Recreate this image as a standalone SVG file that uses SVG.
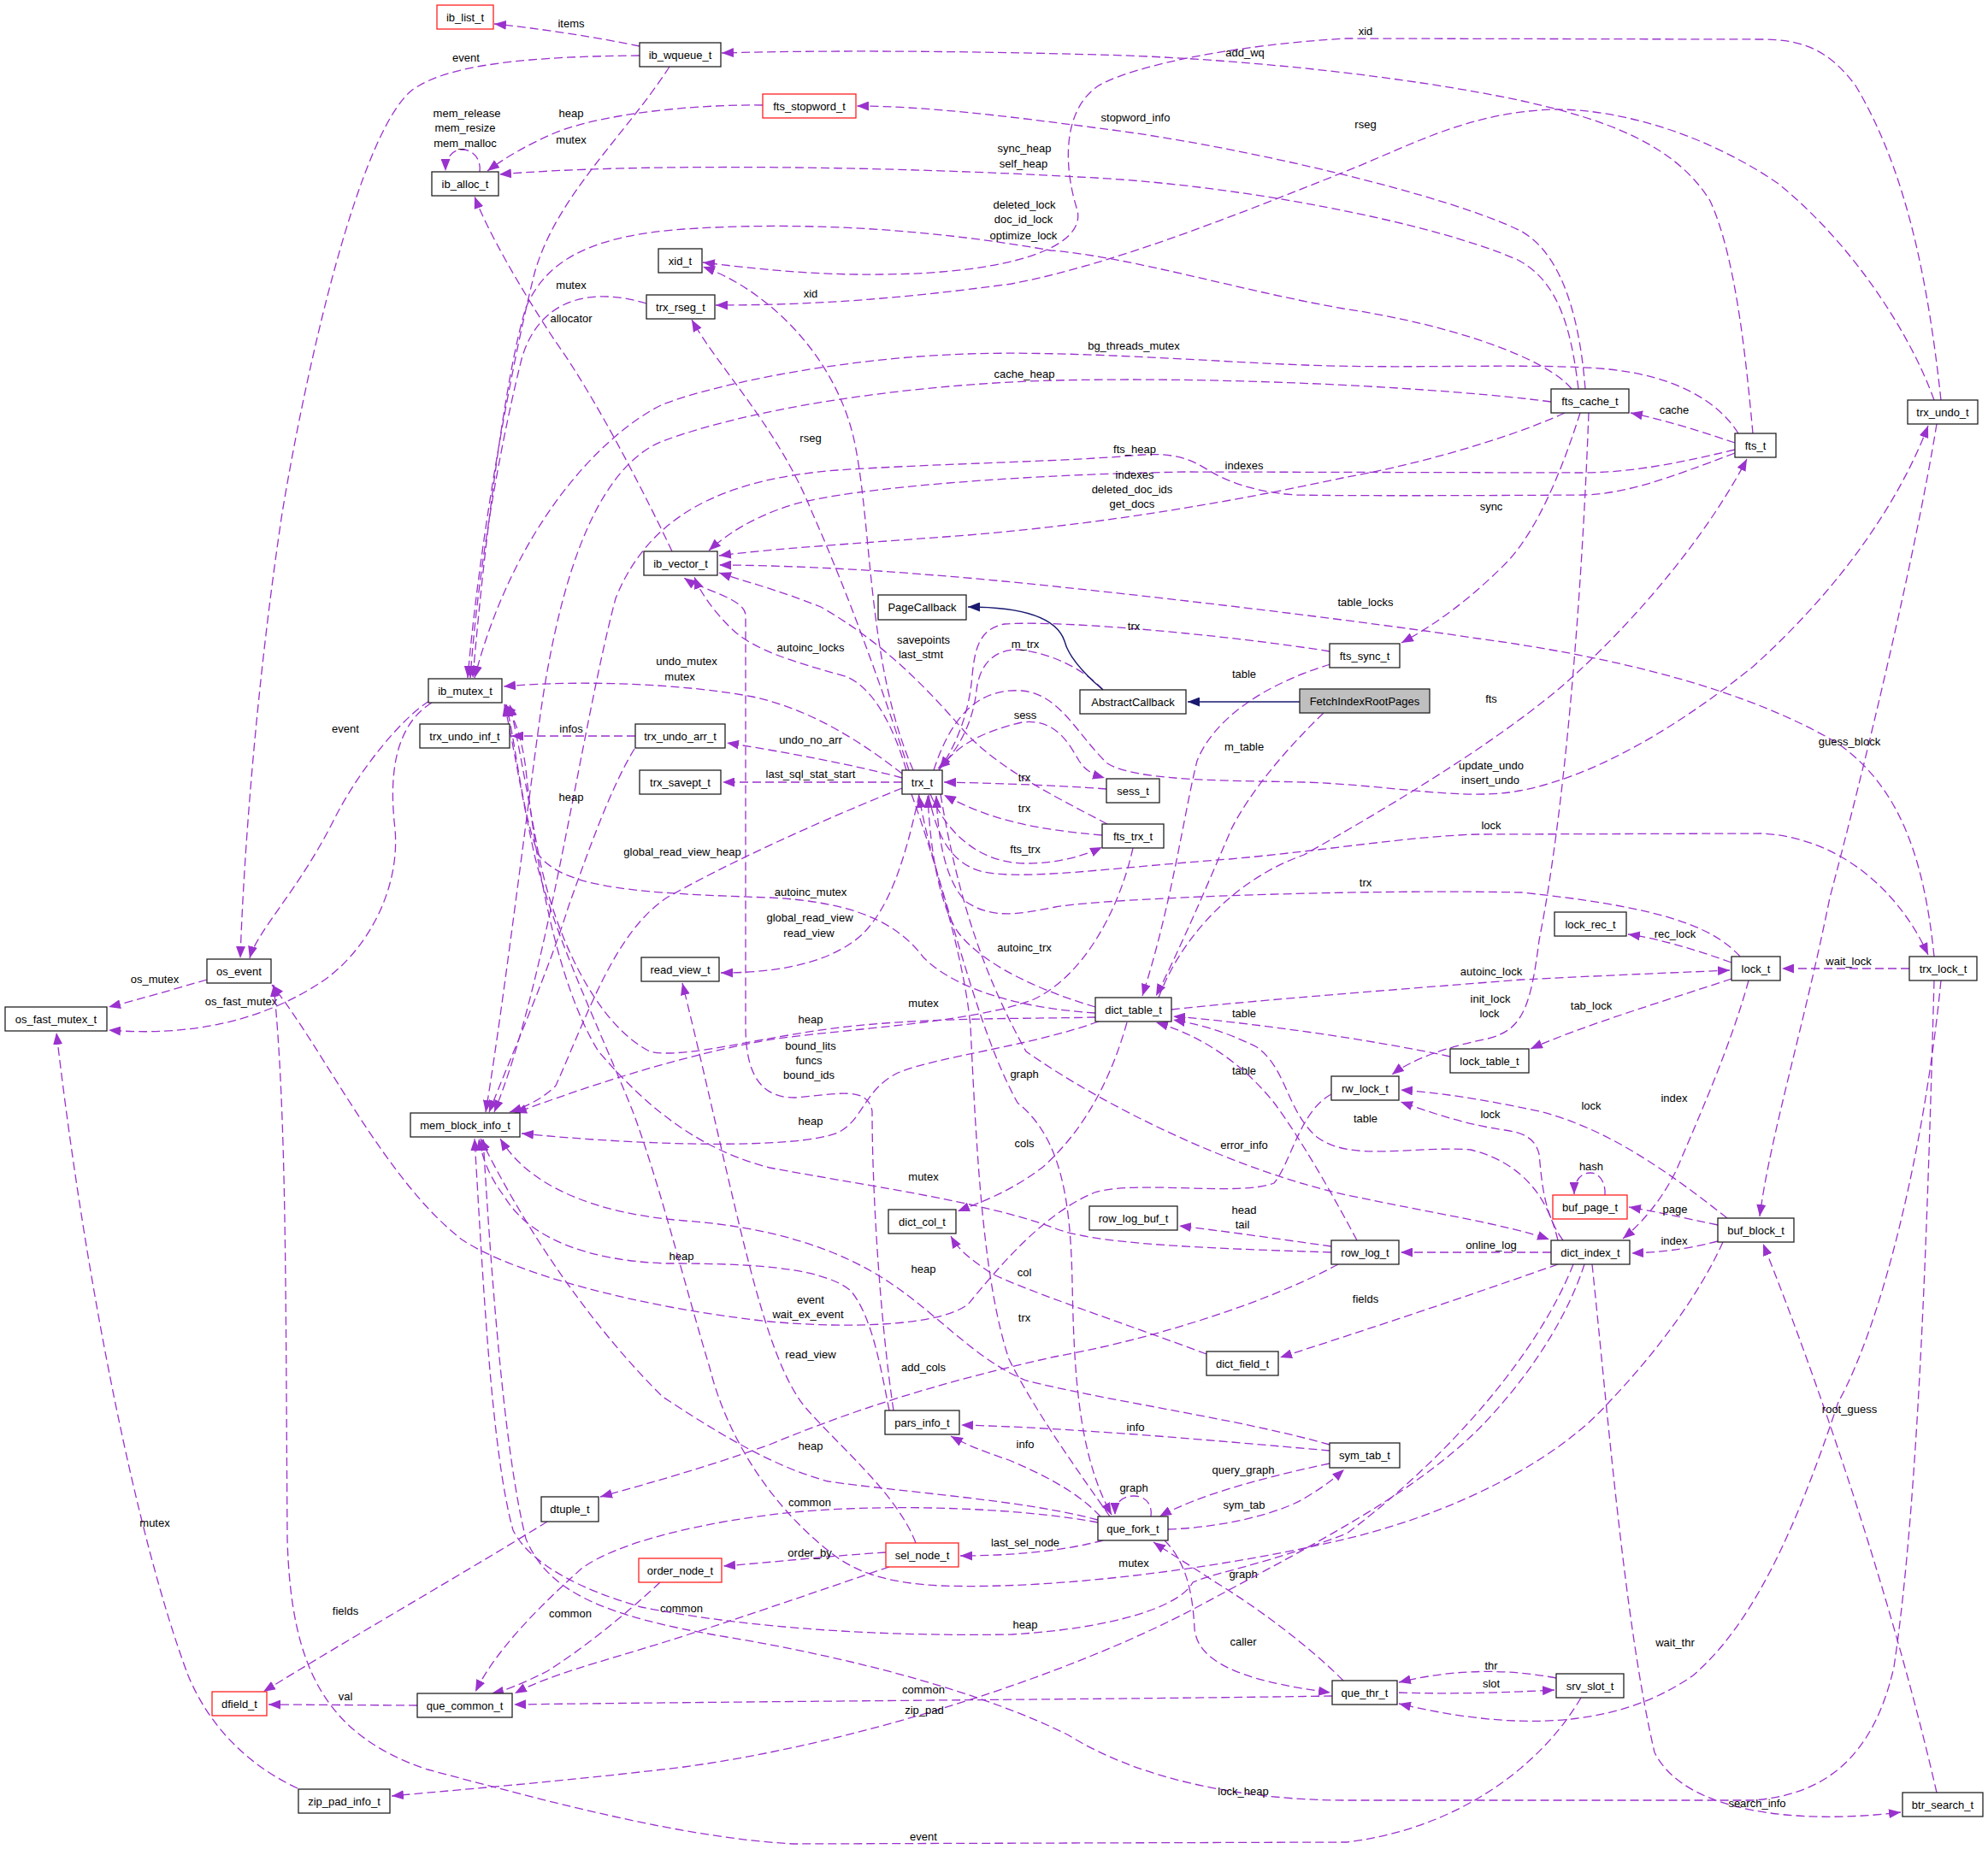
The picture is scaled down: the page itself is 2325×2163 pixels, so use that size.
<svg xmlns="http://www.w3.org/2000/svg" width="2325" height="2163" viewBox="0 0 2325 2163">
<style>
.n rect{fill:#fff;stroke:#222;stroke-width:1.3}
.n.r rect{stroke:#ff2020}
.n.g rect{fill:#bfbfbf}
text{font-family:"Liberation Sans",Arial,Helvetica,sans-serif;font-size:13px;fill:#000;text-anchor:middle}
.e path{fill:none;stroke:#9a32cd;stroke-width:1.3;stroke-dasharray:10,5;marker-end:url(#a)}
.i path{fill:none;stroke:#191970;stroke-width:1.4;marker-end:url(#b)}
</style>
<defs>
<marker id="a" markerUnits="userSpaceOnUse" markerWidth="15" markerHeight="11" refX="14" refY="5.5" orient="auto"><path d="M0,0 L14,5.5 L0,11 z" fill="#9a32cd"/></marker>
<marker id="b" markerUnits="userSpaceOnUse" markerWidth="15" markerHeight="11" refX="14" refY="5.5" orient="auto"><path d="M0,0 L14,5.5 L0,11 z" fill="#191970"/></marker>
</defs>
<rect width="2325" height="2163" fill="#fff"/>
<g id="edges">
<g id="e1" class="e"><path d="M748,54 C700,44 630,33 578,28"/><text x="668" y="31.5">items</text></g>
<g id="e2" class="e"><path d="M748,65 C620,66 520,75 480,107 C420,160 360,420 330,600 C300,800 285,1000 281,1121"/><text x="545" y="71.5">event</text></g>
<g id="e3" class="e"><path d="M783,78 C730,160 650,230 625,320 C595,440 560,640 547,793"/><text x="668" y="167.5">mutex</text></g>
<g id="e4" class="e"><path d="M561,201 C563,186 553,175 541,175 C529,175 521,184 521,200"/><text x="546" y="136.5">mem_release</text><text x="544" y="153.5">mem_resize</text><text x="544" y="171.5">mem_malloc</text></g>
<g id="e5" class="e"><path d="M892,123 C800,122 700,135 650,155 C615,170 590,185 570,200"/><text x="668" y="136.5">heap</text></g>
<g id="e6" class="e"><path d="M2050,507 C2042,420 2030,300 2000,235 C1960,170 1880,140 1780,118 C1650,90 1450,68 1285,64 C1100,59 950,59 844,62"/><text x="1456" y="65.5">add_wq</text></g>
<g id="e7" class="e"><path d="M1854,455 C1848,380 1830,300 1780,271 C1700,230 1450,170 1285,150 C1180,136 1080,124 1002,124"/><text x="1328" y="141.5">stopword_info</text></g>
<g id="e8" class="e"><path d="M1846,455 C1838,390 1825,330 1775,304 C1680,262 1450,215 1260,207 C1050,195 750,190 584,204"/><text x="1198" y="177.5">sync_heap</text><text x="1197" y="195.5">self_heap</text></g>
<g id="e9" class="e"><path d="M1838,455 C1810,420 1700,380 1571,361 C1450,340 1320,300 1229,293 C1100,270 950,258 800,268 C700,275 640,300 615,360 C590,440 565,650 553,793"/><text x="1198" y="243.5">deleted_lock</text><text x="1197" y="260.5">doc_id_lock</text><text x="1197" y="279.5">optimize_lock</text></g>
<g id="e10" class="e"><path d="M2270,468 C2255,330 2230,200 2170,100 C2140,60 2110,46 2061,46 L1575,45 C1450,52 1330,75 1285,100 C1240,130 1245,200 1260,246 C1270,290 1180,320 1030,321 C950,322 880,314 822,307"/><text x="1597" y="40.5">xid</text></g>
<g id="e11" class="e"><path d="M1068,901 C1015,780 1020,620 1000,520 C980,420 900,340 822,312"/><text x="948" y="347.5">xid</text></g>
<g id="e12" class="e"><path d="M2262,468 C2230,380 2160,280 2080,215 C2000,160 1900,128 1820,128 C1720,130 1650,170 1575,200 C1450,250 1300,310 1183,332 C1050,350 950,357 837,357"/><text x="1597" y="149.5">rseg</text></g>
<g id="e13" class="e"><path d="M1063,901 C1030,800 990,690 950,600 C910,500 840,430 809,374"/><text x="948" y="516.5">rseg</text></g>
<g id="e14" class="e"><path d="M756,355 C690,335 630,350 610,420 C590,500 560,650 550,793"/><text x="668" y="337.5">mutex</text></g>
<g id="e15" class="e"><path d="M786,645 C760,590 700,470 650,400 C610,340 570,270 555,230"/><text x="668" y="376.5">allocator</text></g>
<g id="e16" class="e"><path d="M2033,507 C2010,470 1960,440 1882,432 C1800,424 1650,432 1525,427 C1400,422 1250,410 1132,414 C1000,418 850,445 775,473 C700,510 600,620 555,793"/><text x="1326" y="408.5">bg_threads_mutex</text></g>
<g id="e17" class="e"><path d="M1814,470 C1700,455 1450,440 1234,445 C1100,448 900,470 775,516 C690,550 650,700 630,850 C610,1000 585,1200 568,1301"/><text x="1198" y="441.5">cache_heap</text></g>
<g id="e18" class="e"><path d="M2029,530 C1950,560 1900,578 1851,579 C1700,580 1560,580 1515,579 C1460,575 1430,560 1413,550 C1390,535 1370,530 1336,532 C1250,540 1100,542 979,550 C850,560 760,600 720,700 C680,850 640,1150 578,1301"/><text x="1327" y="529.5">fts_heap</text></g>
<g id="e19" class="e"><path d="M2029,526 C1950,545 1900,553 1850,553 L1387,552 C1200,555 1000,570 928,590 C880,605 850,625 829,644"/><text x="1455" y="548.5">indexes</text></g>
<g id="e20" class="e"><path d="M1830,483 C1760,515 1650,545 1575,558 C1450,585 1300,612 1132,626 C1000,636 900,642 841,650"/><text x="1327" y="559.5">indexes</text><text x="1324" y="576.5">deleted_doc_ids</text><text x="1324" y="593.5">get_docs</text></g>
<g id="e21" class="e"><path d="M2029,518 C1990,505 1950,492 1907,483"/><text x="1958" y="484">cache</text></g>
<g id="e22" class="e"><path d="M1848,483 C1830,540 1800,620 1760,660 C1720,700 1680,730 1639,752"/><text x="1744" y="596.5">sync</text></g>
<g id="e23" class="e"><path d="M1060,901 C1045,850 1020,800 985,790 C930,775 880,760 855,735 C835,715 820,695 812,675"/><text x="948" y="761.5">autoinc_locks</text></g>
<g id="e24" class="e"><path d="M1555,762 C1450,745 1250,725 1175,730 C1145,735 1140,760 1137,790 C1134,830 1120,870 1099,899"/><text x="1326" y="736.5">trx</text></g>
<g id="e25" class="e"><path d="M1290,807 C1270,785 1230,763 1190,760 C1160,760 1145,780 1142,808 C1138,845 1120,880 1097,899"/><text x="1199" y="757.5">m_trx</text></g>
<g id="e26" class="e"><path d="M1295,964 C1230,930 1170,900 1130,858 C1080,800 1030,750 960,710 C910,690 870,680 841,670"/><text x="1080" y="752.5">savepoints</text><text x="1077" y="769.5">last_stmt</text></g>
<g id="e27" class="e"><path d="M1556,777 C1480,800 1420,840 1400,890 C1385,950 1370,1060 1336,1165"/><text x="1455" y="792.5">table</text></g>
<g id="e28" class="e"><path d="M1548,834 C1500,880 1460,930 1440,970 C1410,1040 1380,1110 1352,1165"/><text x="1455" y="877.5">m_table</text></g>
<g id="e29" class="e"><path d="M1055,905 C1010,870 950,830 880,815 C800,800 680,795 589,803"/><text x="803" y="777.5">undo_mutex</text><text x="795" y="795.5">mutex</text></g>
<g id="e30" class="e"><path d="M2262,1119 C2250,1000 2220,920 2150,870 C2050,810 1900,770 1729,747 C1550,720 1200,680 1081,672 C1000,665 900,661 841,661"/><text x="1597" y="708.5">table_locks</text></g>
<g id="e31" class="e"><path d="M1098,901 C1120,870 1150,856 1195,845 C1235,840 1250,870 1262,890 C1270,902 1278,906 1292,910"/><text x="1199" y="840.5">sess</text></g>
<g id="e32" class="e"><path d="M1092,901 C1115,830 1150,805 1195,808 C1240,812 1260,860 1295,893 C1330,915 1450,913 1525,915 C1620,918 1700,935 1765,927 C1850,915 1950,860 2050,780 C2150,690 2220,590 2255,498"/><text x="1744" y="899.5">update_undo</text><text x="1743" y="916.5">insert_undo</text></g>
<g id="e33" class="e"><path d="M1355,1167 C1380,1100 1440,1030 1525,1000 C1650,930 1760,860 1830,800 C1920,720 2000,620 2043,537"/><text x="1744" y="821.5">fts</text></g>
<g id="e34" class="e"><path d="M1055,910 C1000,895 920,880 850,869"/><text x="948" y="869.5">undo_no_arr</text></g>
<g id="e35" class="e"><path d="M743,861 L598,861"/><text x="668" y="856.5">infos</text></g>
<g id="e36" class="e"><path d="M1055,915 L845,915"/><text x="948" y="909.5">last_sql_stat_start</text></g>
<g id="e37" class="e"><path d="M1294,923 C1230,918 1150,916 1104,915"/><text x="1198" y="913.5">trx</text></g>
<g id="e38" class="e"><path d="M1289,977 C1210,970 1160,960 1104,930"/><text x="1198" y="949.5">trx</text></g>
<g id="e39" class="e"><path d="M2265,496 C2240,650 2180,900 2140,1050 C2110,1200 2070,1330 2058,1423"/><text x="2163" y="871.5">guess_block</text></g>
<g id="e40" class="e"><path d="M502,820 C470,840 420,900 390,960 C350,1040 300,1090 292,1121"/><text x="404" y="856.5">event</text></g>
<g id="e41" class="e"><path d="M742,876 C715,920 690,990 665,1060 C640,1140 600,1230 572,1301"/><text x="668" y="936.5">heap</text></g>
<g id="e42" class="e"><path d="M1086,930 C1095,975 1110,1010 1150,1020 C1200,1030 1300,1015 1438,1005 C1550,995 1650,978 1729,976 L2061,975 C2150,980 2220,1040 2255,1117"/><text x="1744" y="969.5">lock</text></g>
<g id="e43" class="e"><path d="M1055,922 C960,960 850,1010 780,1050 C720,1090 690,1180 650,1270 C635,1285 615,1295 596,1301"/><text x="798" y="1000.5">global_read_view_heap</text></g>
<g id="e44" class="e"><path d="M1088,929 C1110,980 1150,1010 1200,1010 C1240,1010 1270,1000 1289,991"/><text x="1199" y="997.5">fts_trx</text></g>
<g id="e45" class="e"><path d="M2035,1119 C2000,1080 1930,1060 1780,1044 C1600,1040 1300,1050 1234,1061 C1190,1070 1160,1075 1130,1055 C1105,1030 1097,980 1095,931"/><text x="1597" y="1036.5">trx</text></g>
<g id="e46" class="e"><path d="M1281,1185 C1200,1180 1120,1160 1080,1120 C1050,1080 1000,1055 900,1050 C750,1045 660,1040 630,1000 C610,950 605,880 592,824"/><text x="948" y="1047.5">autoinc_mutex</text></g>
<g id="e47" class="e"><path d="M1075,929 C1060,1000 1040,1070 1000,1100 C960,1130 900,1138 843,1138"/><text x="947" y="1077.5">global_read_view</text><text x="946" y="1095.5">read_view</text></g>
<g id="e48" class="e"><path d="M2025,1126 C1980,1110 1940,1098 1904,1093"/><text x="1959" y="1096.5">rec_lock</text></g>
<g id="e49" class="e"><path d="M1281,1178 C1220,1160 1150,1130 1120,1090 C1100,1060 1088,1000 1085,931"/><text x="1198" y="1112.5">autoinc_trx</text></g>
<g id="e50" class="e"><path d="M505,822 C460,850 455,910 462,970 C468,1040 430,1110 380,1146 C330,1180 250,1215 127,1205"/><text x="282" y="1175.5">os_fast_mutex</text></g>
<g id="e51" class="e"><path d="M242,1146 C200,1158 160,1170 127,1178"/><text x="181" y="1149.5">os_mutex</text></g>
<g id="e52" class="e"><path d="M2233,1133 L2084,1133"/><text x="2162" y="1128.5">wait_lock</text></g>
<g id="e53" class="e"><path d="M1370,1181 C1450,1172 1600,1160 1780,1146 C1900,1140 1980,1137 2023,1135"/><text x="1744" y="1140.5">autoinc_lock</text></g>
<g id="e54" class="e"><path d="M1696,1236 C1600,1215 1450,1195 1372,1189"/><text x="1455" y="1189.5">table</text></g>
<g id="e55" class="e"><path d="M2025,1145 C1950,1170 1850,1200 1790,1227"/><text x="1861" y="1180.5">tab_lock</text></g>
<g id="e56" class="e"><path d="M1858,483 C1850,700 1830,950 1800,1100 C1790,1180 1780,1205 1740,1215 C1690,1225 1650,1240 1628,1257"/><text x="1743" y="1172.5">init_lock</text><text x="1742" y="1189.5">lock</text></g>
<g id="e57" class="e"><path d="M1325,992 C1310,1060 1270,1140 1209,1169 C1130,1200 950,1205 880,1220 C780,1240 690,1270 602,1302"/><text x="948" y="1196.5">heap</text></g>
<g id="e58" class="e"><path d="M1045,1650 C1030,1550 1020,1400 1020,1300 C1015,1270 980,1280 930,1284 C880,1285 872,1240 872,1200 L872,720 C872,700 820,690 800,676"/><text x="948" y="1227.5">bound_lits</text><text x="946" y="1244.5">funcs</text><text x="946" y="1261.5">bound_ids</text></g>
<g id="e59" class="e"><path d="M1066,929 C1110,1050 1140,1200 1190,1290 C1240,1330 1252,1400 1254,1500 C1256,1600 1260,1700 1300,1772"/><text x="1198" y="1260.5">graph</text></g>
<g id="e60" class="e"><path d="M1298,1774 C1260,1720 1210,1650 1180,1590 C1150,1500 1142,1350 1135,1200 C1125,1100 1085,1000 1075,931"/><text x="1198" y="1545.5">trx</text></g>
<g id="e61" class="e"><path d="M1822,1451 C1810,1400 1780,1360 1720,1345 C1650,1340 1580,1360 1540,1330 C1505,1300 1505,1250 1470,1225 C1430,1205 1400,1198 1372,1193"/><text x="1455" y="1256.5">table</text></g>
<g id="e62" class="e"><path d="M1285,1195 C1200,1225 1100,1235 1050,1255 C1010,1275 1010,1310 980,1325 C930,1345 750,1340 610,1326"/><text x="948" y="1315.5">heap</text></g>
<g id="e63" class="e"><path d="M1318,1196 C1300,1260 1270,1320 1220,1365 C1180,1395 1150,1405 1120,1417"/><text x="1198" y="1341.5">cols</text></g>
<g id="e64" class="e"><path d="M1100,929 C1120,1050 1150,1140 1200,1230 C1300,1300 1450,1370 1575,1398 C1680,1420 1760,1432 1812,1450"/><text x="1455" y="1343.5">error_info</text></g>
<g id="e65" class="e"><path d="M1557,1465 C1400,1460 1280,1455 1234,1437 C1150,1405 1000,1385 900,1366 C820,1345 760,1300 700,1230 C650,1150 625,1000 615,900 C610,860 600,835 590,824"/><text x="1080" y="1380.5">mutex</text></g>
<g id="e66" class="e"><path d="M1557,1458 C1500,1450 1430,1440 1379,1434"/><text x="1455" y="1419.5">head</text><text x="1453" y="1436.5">tail</text></g>
<g id="e67" class="e"><path d="M1040,1650 C1030,1600 1020,1540 995,1510 C960,1480 860,1478 780,1478 C690,1475 620,1450 590,1400 C575,1380 565,1360 560,1332"/><text x="797" y="1473.5">heap</text></g>
<g id="e68" class="e"><path d="M1555,1690 C1450,1660 1300,1640 1200,1615 C1140,1590 1100,1540 1040,1500 C980,1460 900,1435 800,1428 C700,1420 620,1390 585,1332"/><text x="1080" y="1488.5">heap</text></g>
<g id="e69" class="e"><path d="M2020,1425 C1950,1370 1880,1320 1800,1300 C1730,1285 1680,1278 1638,1275"/><text x="1861" y="1297.5">lock</text></g>
<g id="e70" class="e"><path d="M1828,1451 C1805,1420 1803,1380 1800,1350 C1795,1330 1780,1325 1760,1322 C1710,1315 1670,1300 1638,1289"/><text x="1743" y="1307.5">lock</text></g>
<g id="e71" class="e"><path d="M2045,1147 C2025,1220 1990,1300 1960,1370 C1940,1410 1915,1435 1898,1449"/><text x="1958" y="1288.5">index</text></g>
<g id="e72" class="e"><path d="M1877,1398 C1878,1385 1872,1372 1860,1372 C1848,1372 1841,1382 1841,1397"/><text x="1861" y="1368.5">hash</text></g>
<g id="e73" class="e"><path d="M2009,1433 C1970,1425 1940,1418 1905,1412"/><text x="1959" y="1418.5">page</text></g>
<g id="e74" class="e"><path d="M2009,1452 C1970,1462 1940,1465 1908,1466"/><text x="1958" y="1455.5">index</text></g>
<g id="e75" class="e"><path d="M1814,1465 L1638,1465"/><text x="1744" y="1460.5">online_log</text></g>
<g id="e76" class="e"><path d="M1411,1584 C1320,1550 1200,1510 1160,1490 C1130,1470 1120,1460 1112,1446"/><text x="1198" y="1492.5">col</text></g>
<g id="e77" class="e"><path d="M1557,1280 C1520,1300 1510,1360 1490,1384 C1450,1400 1330,1380 1280,1395 C1220,1420 1170,1480 1132,1526 C1100,1550 1000,1555 900,1546 C750,1530 600,1490 540,1450 C450,1380 380,1230 318,1152"/><text x="948" y="1524.5">event</text><text x="945" y="1541.5">wait_ex_event</text></g>
<g id="e78" class="e"><path d="M1822,1479 C1720,1515 1600,1555 1497,1588"/><text x="1597" y="1523.5">fields</text></g>
<g id="e79" class="e"><path d="M1071,1805 C1050,1750 990,1700 945,1650 C890,1590 860,1400 798,1150"/><text x="948" y="1588.5">read_view</text></g>
<g id="e80" class="e"><path d="M1565,1479 C1470,1530 1330,1570 1234,1587 C1130,1610 1020,1640 900,1690 C830,1715 760,1735 702,1751"/><text x="1080" y="1603.5">add_cols</text></g>
<g id="e81" class="e"><path d="M1555,1697 C1420,1685 1250,1670 1124,1667"/><text x="1328" y="1673.5">info</text></g>
<g id="e82" class="e"><path d="M1287,1774 C1260,1745 1220,1725 1180,1708 C1150,1698 1130,1690 1112,1680"/><text x="1199" y="1693.5">info</text></g>
<g id="e83" class="e"><path d="M1555,1712 C1470,1730 1400,1750 1356,1774"/><text x="1454" y="1723.5">query_graph</text></g>
<g id="e84" class="e"><path d="M1346,1774 C1348,1760 1340,1750 1326,1750 C1312,1750 1304,1758 1304,1772"/><text x="1326" y="1744.5">graph</text></g>
<g id="e85" class="e"><path d="M1366,1789 C1430,1787 1500,1770 1530,1750 C1550,1738 1562,1728 1572,1719"/><text x="1455" y="1764.5">sym_tab</text></g>
<g id="e86" class="e"><path d="M1284,1781 C1200,1765 1050,1758 928,1769 C820,1780 720,1805 680,1835 C630,1880 580,1930 556,1979"/><text x="947" y="1761.5">common</text></g>
<g id="e87" class="e"><path d="M1290,1802 C1240,1815 1180,1820 1123,1820"/><text x="1199" y="1808.5">last_sel_node</text></g>
<g id="e88" class="e"><path d="M1036,1816 C970,1820 900,1828 846,1832"/><text x="947" y="1820.5">order_by</text></g>
<g id="e89" class="e"><path d="M2015,1453 C1980,1530 1920,1600 1882,1640 C1820,1710 1700,1770 1575,1800 C1450,1830 1250,1860 1100,1855 C1040,1852 1000,1840 970,1815 C900,1760 850,1680 830,1600 C800,1500 770,1380 740,1300 C700,1200 650,1100 625,1000 C610,930 600,870 590,824"/><text x="1326" y="1832.5">mutex</text></g>
<g id="e90" class="e"><path d="M1571,1966 C1530,1925 1470,1880 1420,1850 C1390,1830 1365,1815 1349,1804"/><text x="1454" y="1845.5">graph</text></g>
<g id="e91" class="e"><path d="M1040,1833 C960,1860 860,1895 780,1920 C700,1945 640,1960 602,1981"/><text x="797" y="1885.5">common</text></g>
<g id="e92" class="e"><path d="M772,1851 C730,1890 680,1930 640,1955 C610,1970 590,1978 575,1981"/><text x="667" y="1891.5">common</text></g>
<g id="e93" class="e"><path d="M640,1780 C560,1830 420,1910 308,1979"/><text x="404" y="1888.5">fields</text></g>
<g id="e94" class="e"><path d="M1362,1802 C1390,1830 1395,1870 1397,1905 C1400,1940 1440,1965 1556,1980"/><text x="1454" y="1924.5">caller</text></g>
<g id="e95" class="e"><path d="M2270,1147 C2250,1350 2200,1550 2150,1640 C2100,1790 2050,1900 1980,1960 C1880,2030 1750,2020 1636,1993"/><text x="1959" y="1925.5">wait_thr</text></g>
<g id="e96" class="e"><path d="M2262,1147 C2255,1400 2245,1750 2215,1950 C2190,2060 2130,2100 2050,2106 L1575,2106 C1450,2106 1330,2080 1250,2030 C1150,1980 1000,1940 850,1915 C700,1890 640,1860 615,1800 C590,1700 575,1500 565,1332"/><text x="1454" y="2099.5">lock_heap</text></g>
<g id="e97" class="e"><path d="M1820,1963 C1750,1950 1690,1955 1636,1968"/><text x="1744" y="1952.5">thr</text></g>
<g id="e98" class="e"><path d="M1636,1980 C1700,1982 1760,1980 1818,1977"/><text x="1744" y="1973.5">slot</text></g>
<g id="e99" class="e"><path d="M1558,1984 C1300,1988 900,1990 601,1994"/><text x="1080" y="1980.5">common</text></g>
<g id="e100" class="e"><path d="M488,1995 L314,1994"/><text x="404" y="1988.5">val</text></g>
<g id="e101" class="e"><path d="M1853,1479 C1830,1550 1780,1620 1729,1672 C1650,1750 1530,1810 1400,1880 C1250,1960 1000,2040 800,2067 C650,2085 520,2095 458,2101"/><text x="1081" y="2004.5">zip_pad</text></g>
<g id="e102" class="e"><path d="M348,2092 C290,2065 245,2020 220,1960 C160,1800 100,1500 66,1208"/><text x="181" y="1785.5">mutex</text></g>
<g id="e103" class="e"><path d="M1862,1479 C1880,1650 1900,1900 1935,2050 C1970,2120 2100,2135 2223,2120"/><text x="2055" y="2113.5">search_info</text></g>
<g id="e104" class="e"><path d="M2265,2097 C2220,1900 2140,1650 2062,1455"/><text x="2163" y="1652.5">root_guess</text></g>
<g id="e105" class="e"><path d="M1849,1986 C1800,2070 1700,2140 1575,2155 L928,2157 C800,2150 650,2110 500,2070 C380,2030 340,1950 336,1800 C334,1500 335,1300 320,1152"/><text x="1080" y="2152.5">event</text></g>
<g id="e106" class="e"><path d="M1284,1778 C1200,1755 1050,1745 969,1733 C900,1715 830,1670 775,1634 C700,1560 620,1450 562,1332"/><text x="948" y="1695.5">heap</text></g>
<g id="e107" class="e"><path d="M1840,1479 C1800,1580 1700,1700 1575,1794 C1480,1830 1420,1840 1395,1851 C1380,1880 1300,1905 1183,1912 C1000,1915 850,1900 750,1880 C680,1860 620,1830 600,1790 C575,1700 565,1500 555,1332"/><text x="1199" y="1904.5">heap</text></g>
<g id="e108" class="e"><path d="M1587,1451 C1560,1400 1520,1330 1490,1290 C1450,1240 1400,1210 1352,1196"/><text x="1597" y="1312.5">table</text></g>
<g id="e109" class="e"><path d="M1281,1190 C1200,1192 1100,1190 1000,1200 C900,1210 800,1240 760,1230 C700,1200 650,1100 630,1000 C615,920 605,860 596,824"/><text x="1080" y="1177.5">mutex</text></g>
<g id="i1" class="i"><path d="M1520,821 L1389,821"/></g>
<g id="i2" class="i"><path d="M1290,807 C1270,790 1250,770 1245,750 C1235,720 1190,710 1132,710"/></g>
</g>
<g id="nodes">
<g id="n_ib_list_t" class="n r"><rect x="511" y="6" width="66" height="28"/><text x="544" y="24.5">ib_list_t</text></g>
<g id="n_ib_wqueue_t" class="n"><rect x="748" y="50" width="95" height="28"/><text x="795.5" y="68.5">ib_wqueue_t</text></g>
<g id="n_fts_stopword_t" class="n r"><rect x="892" y="110" width="109" height="28"/><text x="946.5" y="128.5">fts_stopword_t</text></g>
<g id="n_ib_alloc_t" class="n"><rect x="505" y="201" width="78" height="28"/><text x="544" y="219.5">ib_alloc_t</text></g>
<g id="n_xid_t" class="n"><rect x="770" y="291" width="51" height="28"/><text x="795.5" y="309.5">xid_t</text></g>
<g id="n_trx_rseg_t" class="n"><rect x="756" y="345" width="80" height="28"/><text x="796" y="363.5">trx_rseg_t</text></g>
<g id="n_fts_cache_t" class="n"><rect x="1814" y="455" width="91" height="28"/><text x="1859.5" y="473.5">fts_cache_t</text></g>
<g id="n_trx_undo_t" class="n"><rect x="2231" y="468" width="82" height="28"/><text x="2272" y="486.5">trx_undo_t</text></g>
<g id="n_fts_t" class="n"><rect x="2029" y="507" width="48" height="28"/><text x="2053" y="525.5">fts_t</text></g>
<g id="n_ib_vector_t" class="n"><rect x="753" y="645" width="86" height="28"/><text x="796" y="663.5">ib_vector_t</text></g>
<g id="n_PageCallback" class="n"><rect x="1027" y="696" width="103" height="29"/><text x="1078.5" y="715">PageCallback</text></g>
<g id="n_fts_sync_t" class="n"><rect x="1555" y="753" width="82" height="28"/><text x="1596" y="771.5">fts_sync_t</text></g>
<g id="n_ib_mutex_t" class="n"><rect x="501" y="794" width="86" height="28"/><text x="544" y="812.5">ib_mutex_t</text></g>
<g id="n_AbstractCallback" class="n"><rect x="1263" y="807" width="124" height="28"/><text x="1325" y="825.5">AbstractCallback</text></g>
<g id="n_FetchIndexRootPages" class="n g"><rect x="1520" y="806" width="152" height="28"/><text x="1596" y="824.5">FetchIndexRootPages</text></g>
<g id="n_trx_undo_inf_t" class="n"><rect x="491" y="847" width="105" height="28"/><text x="543.5" y="865.5">trx_undo_inf_t</text></g>
<g id="n_trx_undo_arr_t" class="n"><rect x="743" y="847" width="105" height="28"/><text x="795.5" y="865.5">trx_undo_arr_t</text></g>
<g id="n_trx_savept_t" class="n"><rect x="748" y="901" width="95" height="28"/><text x="795.5" y="919.5">trx_savept_t</text></g>
<g id="n_trx_t" class="n"><rect x="1055" y="901" width="47" height="28"/><text x="1078.5" y="919.5">trx_t</text></g>
<g id="n_sess_t" class="n"><rect x="1294" y="911" width="62" height="28"/><text x="1325" y="929.5">sess_t</text></g>
<g id="n_fts_trx_t" class="n"><rect x="1289" y="964" width="72" height="28"/><text x="1325" y="982.5">fts_trx_t</text></g>
<g id="n_lock_rec_t" class="n"><rect x="1818" y="1067" width="84" height="28"/><text x="1860" y="1085.5">lock_rec_t</text></g>
<g id="n_os_event" class="n"><rect x="242" y="1122" width="75" height="28"/><text x="279.5" y="1140.5">os_event</text></g>
<g id="n_read_view_t" class="n"><rect x="750" y="1120" width="91" height="28"/><text x="795.5" y="1138.5">read_view_t</text></g>
<g id="n_lock_t" class="n"><rect x="2025" y="1119" width="57" height="28"/><text x="2053.5" y="1137.5">lock_t</text></g>
<g id="n_trx_lock_t" class="n"><rect x="2233" y="1119" width="79" height="28"/><text x="2272.5" y="1137.5">trx_lock_t</text></g>
<g id="n_dict_table_t" class="n"><rect x="1281" y="1167" width="89" height="28"/><text x="1325.5" y="1185.5">dict_table_t</text></g>
<g id="n_os_fast_mutex_t" class="n"><rect x="6" y="1178" width="119" height="28"/><text x="65.5" y="1196.5">os_fast_mutex_t</text></g>
<g id="n_lock_table_t" class="n"><rect x="1696" y="1227" width="92" height="28"/><text x="1742" y="1245.5">lock_table_t</text></g>
<g id="n_rw_lock_t" class="n"><rect x="1557" y="1259" width="79" height="28"/><text x="1596.5" y="1277.5">rw_lock_t</text></g>
<g id="n_mem_block_info_t" class="n"><rect x="480" y="1302" width="128" height="28"/><text x="544" y="1320.5">mem_block_info_t</text></g>
<g id="n_buf_page_t" class="n r"><rect x="1816" y="1398" width="87" height="28"/><text x="1859.5" y="1416.5">buf_page_t</text></g>
<g id="n_row_log_buf_t" class="n"><rect x="1274" y="1411" width="103" height="28"/><text x="1325.5" y="1429.5">row_log_buf_t</text></g>
<g id="n_dict_col_t" class="n"><rect x="1039" y="1415" width="79" height="28"/><text x="1078.5" y="1433.5">dict_col_t</text></g>
<g id="n_buf_block_t" class="n"><rect x="2009" y="1425" width="89" height="28"/><text x="2053.5" y="1443.5">buf_block_t</text></g>
<g id="n_row_log_t" class="n"><rect x="1557" y="1451" width="79" height="28"/><text x="1596.5" y="1469.5">row_log_t</text></g>
<g id="n_dict_index_t" class="n"><rect x="1814" y="1451" width="92" height="28"/><text x="1860" y="1469.5">dict_index_t</text></g>
<g id="n_dict_field_t" class="n"><rect x="1411" y="1581" width="84" height="28"/><text x="1453" y="1599.5">dict_field_t</text></g>
<g id="n_pars_info_t" class="n"><rect x="1035" y="1650" width="87" height="28"/><text x="1078.5" y="1668.5">pars_info_t</text></g>
<g id="n_sym_tab_t" class="n"><rect x="1555" y="1688" width="82" height="29"/><text x="1596" y="1707">sym_tab_t</text></g>
<g id="n_dtuple_t" class="n"><rect x="633" y="1751" width="67" height="29"/><text x="666.5" y="1770">dtuple_t</text></g>
<g id="n_que_fork_t" class="n"><rect x="1284" y="1774" width="82" height="28"/><text x="1325" y="1792.5">que_fork_t</text></g>
<g id="n_sel_node_t" class="n r"><rect x="1036" y="1805" width="85" height="28"/><text x="1078.5" y="1823.5">sel_node_t</text></g>
<g id="n_order_node_t" class="n r"><rect x="747" y="1823" width="97" height="28"/><text x="795.5" y="1841.5">order_node_t</text></g>
<g id="n_que_thr_t" class="n"><rect x="1558" y="1966" width="76" height="28"/><text x="1596" y="1984.5">que_thr_t</text></g>
<g id="n_srv_slot_t" class="n"><rect x="1820" y="1958" width="79" height="28"/><text x="1859.5" y="1976.5">srv_slot_t</text></g>
<g id="n_dfield_t" class="n r"><rect x="248" y="1979" width="64" height="28"/><text x="280" y="1997.5">dfield_t</text></g>
<g id="n_que_common_t" class="n"><rect x="488" y="1981" width="111" height="28"/><text x="543.5" y="1999.5">que_common_t</text></g>
<g id="n_zip_pad_info_t" class="n"><rect x="349" y="2093" width="107" height="28"/><text x="402.5" y="2111.5">zip_pad_info_t</text></g>
<g id="n_btr_search_t" class="n"><rect x="2225" y="2097" width="94" height="28"/><text x="2272" y="2115.5">btr_search_t</text></g>
</g>
</svg>
